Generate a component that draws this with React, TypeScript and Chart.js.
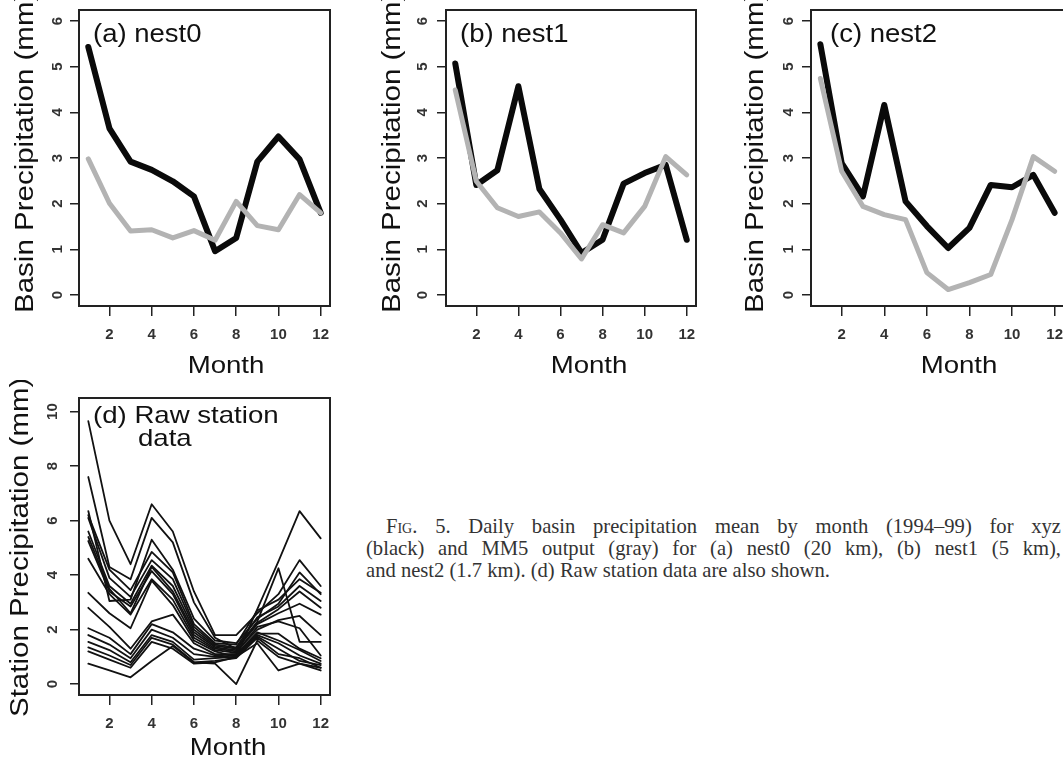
import React, { useEffect, useRef } from 'react';
import { Chart, registerables } from 'chart.js';

Chart.register(...registerables);

// ---------- data ----------
const months = [1, 2, 3, 4, 5, 6, 7, 8, 9, 10, 11, 12];
const xTicks = [2, 4, 6, 8, 10, 12];
const basinTicks = [0, 1, 2, 3, 4, 5, 6];
const stationTicks = [0, 2, 4, 6, 8, 10];

// (a) nest0
const nest0Obs = [5.43, 3.65, 2.92, 2.74, 2.49, 2.16, 0.96, 1.25, 2.92, 3.47, 2.97, 1.8];
const nest0Mm5 = [2.98, 2.01, 1.4, 1.43, 1.25, 1.41, 1.2, 2.05, 1.52, 1.43, 2.2, 1.8];
// (b) nest1
const nest1Obs = [5.07, 2.41, 2.73, 4.57, 2.32, 1.65, 0.92, 1.21, 2.44, 2.67, 2.85, 1.21];
const nest1Mm5 = [4.49, 2.49, 1.91, 1.72, 1.82, 1.36, 0.79, 1.54, 1.36, 1.94, 3.03, 2.63];
// (c) nest2
const nest2Obs = [5.49, 2.89, 2.16, 4.16, 2.05, 1.51, 1.03, 1.47, 2.41, 2.36, 2.63, 1.8];
const nest2Mm5 = [4.74, 2.71, 1.94, 1.76, 1.65, 0.49, 0.12, 0.27, 0.45, 1.65, 3.03, 2.71];
// (d) raw station data
const st1 = [9.65, 6.0, 4.4, 6.6, 5.6, 3.4, 1.8, 1.8, 2.6, 3.3, 4.55, 3.6];
const st2 = [7.6, 4.3, 3.85, 6.1, 5.2, 3.0, 1.7, 1.3, 2.3, 4.25, 1.55, 1.55];
const st3 = [6.35, 3.05, 3.1, 5.3, 4.2, 2.4, 1.6, 1.5, 2.4, 2.95, 4.1, 3.3];
const st4 = [6.2, 4.2, 3.45, 4.85, 4.1, 2.2, 1.5, 1.45, 2.7, 3.1, 3.85, 3.35];
const st5 = [6.1, 3.9, 3.2, 4.55, 3.85, 2.1, 1.45, 1.35, 2.45, 2.85, 3.6, 3.05];
const st6 = [5.6, 3.6, 2.95, 4.35, 3.6, 2.0, 1.4, 1.3, 2.25, 2.75, 3.4, 2.8];
const st7 = [5.4, 3.5, 2.6, 4.3, 3.4, 1.9, 1.35, 1.25, 2.2, 2.6, 2.95, 2.55];
const st8 = [5.25, 3.4, 2.85, 4.15, 3.3, 1.8, 1.3, 1.2, 2.0, 2.35, 2.5, 1.8];
const st9 = [4.6, 3.3, 2.55, 3.85, 3.1, 1.7, 1.25, 1.15, 2.1, 2.3, 2.05, 1.05];
const st10 = [3.35, 2.6, 2.05, 3.8, 2.9, 1.6, 1.2, 1.0, 2.75, 4.5, 6.35, 5.35];
const st11 = [2.8, 2.1, 1.3, 2.3, 2.55, 1.5, 1.1, 1.1, 1.85, 1.85, 1.3, 0.95];
const st12 = [2.05, 1.7, 1.1, 2.2, 1.9, 1.3, 1.05, 1.1, 1.9, 1.6, 1.25, 0.85];
const st13 = [1.8, 1.45, 0.95, 2.0, 1.7, 1.1, 1.0, 1.05, 1.8, 1.5, 1.05, 0.75];
const st14 = [1.55, 1.25, 0.8, 1.8, 1.55, 0.9, 0.95, 1.0, 1.75, 1.3, 0.85, 0.7];
const st15 = [1.35, 1.05, 0.7, 1.7, 1.45, 0.8, 0.85, 0.95, 1.7, 1.1, 0.95, 0.6];
const st16 = [1.2, 0.9, 0.6, 1.55, 1.3, 0.75, 0.8, 1.0, 1.5, 0.5, 0.75, 0.5];
const st17 = [0.75, 0.5, 0.25, 0.85, 1.4, 0.8, 0.75, 0.0, 1.6, 1.0, 0.75, 0.6];
const stations = [st1, st2, st3, st4, st5, st6, st7, st8, st9, st10, st11, st12, st13, st14, st15, st16, st17];

// ---------- styling ----------
const SANS = '"Liberation Sans", Arial, Helvetica, sans-serif';
const BLACK = '#0a0a0a';
const GRAY = '#b3b3b3';

type Series = { values: number[]; color: string; width: number };
type TextItem = { text: string; x: number; y: number; size: number; sx: number; align: CanvasTextAlign; rotate?: boolean };
type PanelProps = {
  left: number; top: number; w: number; h: number;
  area: { left: number; top: number; right: number; bottom: number };
  series: Series[];
  yMin: number; yMax: number; yTicks: number[]; yPad: number;
  texts: TextItem[];
};

function Panel(p: PanelProps) {
  const ref = useRef<HTMLCanvasElement>(null);
  useEffect(() => {
    const canvas = ref.current as HTMLCanvasElement;
    const { w, h, area, series, yMin, yMax, yTicks, yPad, texts } = p;
    const decor = {
      id: 'decor',
      afterDraw(chart: any) {
        const ctx = chart.ctx as CanvasRenderingContext2D;
        const a = chart.chartArea;
        ctx.save();
        ctx.strokeStyle = '#222';
        ctx.lineWidth = 2;
        ctx.strokeRect(a.left, a.top, a.right - a.left, a.bottom - a.top);
        ctx.fillStyle = '#111';
        for (const t of texts) {
          ctx.save();
          ctx.font = `${t.size}px ${SANS}`;
          ctx.textAlign = t.align;
          ctx.textBaseline = 'alphabetic';
          ctx.translate(t.x, t.y);
          if (t.rotate) ctx.rotate(-Math.PI / 2);
          ctx.scale(t.sx, 1);
          ctx.fillText(t.text, 0, 0);
          ctx.restore();
        }
        ctx.restore();
      },
    };
    const tickFont = { family: SANS, size: 15, weight: 'bold' as const };
    const chart = new Chart(canvas, {
      type: 'line',
      data: {
        datasets: series.map((s) => ({
          data: months.map((m, i) => ({ x: m, y: s.values[i] })),
          borderColor: s.color,
          borderWidth: s.width,
          pointRadius: 0,
          fill: false,
          tension: 0,
          borderJoinStyle: 'round' as const,
          borderCapStyle: 'round' as const,
        })),
      },
      options: {
        animation: false,
        responsive: false,
        maintainAspectRatio: false,
        events: [],
        layout: { padding: { left: 0, top: area.top, right: w - area.right, bottom: 0 } },
        plugins: { legend: { display: false }, tooltip: { enabled: false }, title: { display: false } },
        scales: {
          x: {
            type: 'linear',
            position: 'bottom',
            min: 0.56,
            max: 12.44,
            afterBuildTicks: (s: any) => { s.ticks = xTicks.map((v) => ({ value: v })); },
            afterFit: (s: any) => { s.height = h - area.bottom; s.paddingLeft = 0; s.paddingRight = 0; },
            grid: { display: true, drawOnChartArea: false, drawTicks: true, tickLength: 10, color: '#222', lineWidth: 1.5 },
            border: { display: false },
            ticks: { autoSkip: false, minRotation: 0, maxRotation: 0, padding: 10, color: '#333', font: tickFont, callback: (v: any) => String(v) },
          },
          y: {
            type: 'linear',
            position: 'left',
            min: yMin,
            max: yMax,
            afterBuildTicks: (s: any) => { s.ticks = yTicks.map((v) => ({ value: v })); },
            afterFit: (s: any) => { s.width = area.left; s.paddingTop = 0; s.paddingBottom = 0; },
            grid: { display: true, drawOnChartArea: false, drawTicks: true, tickLength: 9, color: '#222', lineWidth: 1.5 },
            border: { display: false },
            ticks: { autoSkip: false, minRotation: 90, maxRotation: 90, crossAlign: 'center', padding: yPad, color: '#333', font: tickFont, callback: (v: any) => String(v) },
          },
        },
      } as any,
      plugins: [decor],
    });
    return () => chart.destroy();
  }, []);
  return (
    <canvas
      ref={ref}
      width={p.w}
      height={p.h}
      style={{ position: 'absolute', left: p.left, top: p.top, width: p.w, height: p.h }}
    />
  );
}

const basinPanel = (obs: number[], mm5: number[]): Series[] => [
  { values: mm5, color: GRAY, width: 5 },
  { values: obs, color: BLACK, width: 6 },
];

export default function App() {
  const yLab = 'Basin Precipitation (mm)';
  return (
    <div style={{ position: 'absolute', left: 0, top: 0, width: 1063, height: 765, overflow: 'hidden', background: '#fff' }}>
      <Panel
        left={0} top={0} w={340} h={380}
        area={{ left: 79, top: 10, right: 330, bottom: 306 }}
        series={basinPanel(nest0Obs, nest0Mm5)}
        yMin={-0.24} yMax={6.24} yTicks={basinTicks} yPad={8}
        texts={[
          { text: yLab, x: 33, y: 313, size: 25, sx: 1.18, align: 'left', rotate: true },
          { text: 'Month', x: 226, y: 373, size: 24, sx: 1.15, align: 'center' },
          { text: '(a) nest0', x: 93, y: 42, size: 25, sx: 1.1, align: 'left' },
        ]}
      />
      <Panel
        left={350} top={0} w={350} h={380}
        area={{ left: 96, top: 10, right: 346, bottom: 306 }}
        series={basinPanel(nest1Obs, nest1Mm5)}
        yMin={-0.24} yMax={6.24} yTicks={basinTicks} yPad={10}
        texts={[
          { text: yLab, x: 50, y: 313, size: 25, sx: 1.18, align: 'left', rotate: true },
          { text: 'Month', x: 239, y: 373, size: 24, sx: 1.15, align: 'center' },
          { text: '(b) nest1', x: 110, y: 42, size: 25, sx: 1.1, align: 'left' },
        ]}
      />
      <Panel
        left={700} top={0} w={370} h={380}
        area={{ left: 111, top: 10, right: 364, bottom: 306 }}
        series={basinPanel(nest2Obs, nest2Mm5)}
        yMin={-0.24} yMax={6.24} yTicks={basinTicks} yPad={9}
        texts={[
          { text: yLab, x: 63, y: 313, size: 25, sx: 1.18, align: 'left', rotate: true },
          { text: 'Month', x: 259, y: 373, size: 24, sx: 1.15, align: 'center' },
          { text: '(c) nest2', x: 130, y: 42, size: 25, sx: 1.1, align: 'left' },
        ]}
      />
      <Panel
        left={0} top={380} w={340} h={385}
        area={{ left: 79, top: 18, right: 330, bottom: 315 }}
        series={stations.map((s) => ({ values: s, color: '#111', width: 1.8 }))}
        yMin={-0.4} yMax={10.5} yTicks={stationTicks} yPad={9}
        texts={[
          { text: 'Station Precipitation (mm)', x: 28, y: 337, size: 25, sx: 1.18, align: 'left', rotate: true },
          { text: 'Month', x: 228, y: 375, size: 24, sx: 1.15, align: 'center' },
          { text: '(d) Raw station', x: 93, y: 43, size: 24, sx: 1.15, align: 'left' },
          { text: 'data', x: 138, y: 66, size: 24, sx: 1.15, align: 'left' },
        ]}
      />
      <div style={{ position: 'absolute', left: 0, top: 0, fontFamily: '"Liberation Serif", "Times New Roman", serif', fontSize: 20.6, lineHeight: '22px', color: '#333' }}>
        <div style={{ position: 'absolute', left: 386, top: 515, width: 675, textAlign: 'justify', textAlignLast: 'justify' as any }}>
          <span style={{ fontVariant: 'small-caps' }}>Fig</span>. 5. Daily basin precipitation mean by month (1994–99) for xyz
        </div>
        <div style={{ position: 'absolute', left: 366, top: 537, width: 695, textAlign: 'justify', textAlignLast: 'justify' as any }}>
          (black) and MM5 output (gray) for (a) nest0 (20 km), (b) nest1 (5 km),
        </div>
        <div style={{ position: 'absolute', left: 366, top: 559, width: 695, whiteSpace: 'nowrap' }}>
          and nest2 (1.7 km). (d) Raw station data are also shown.
        </div>
      </div>
    </div>
  );
}
